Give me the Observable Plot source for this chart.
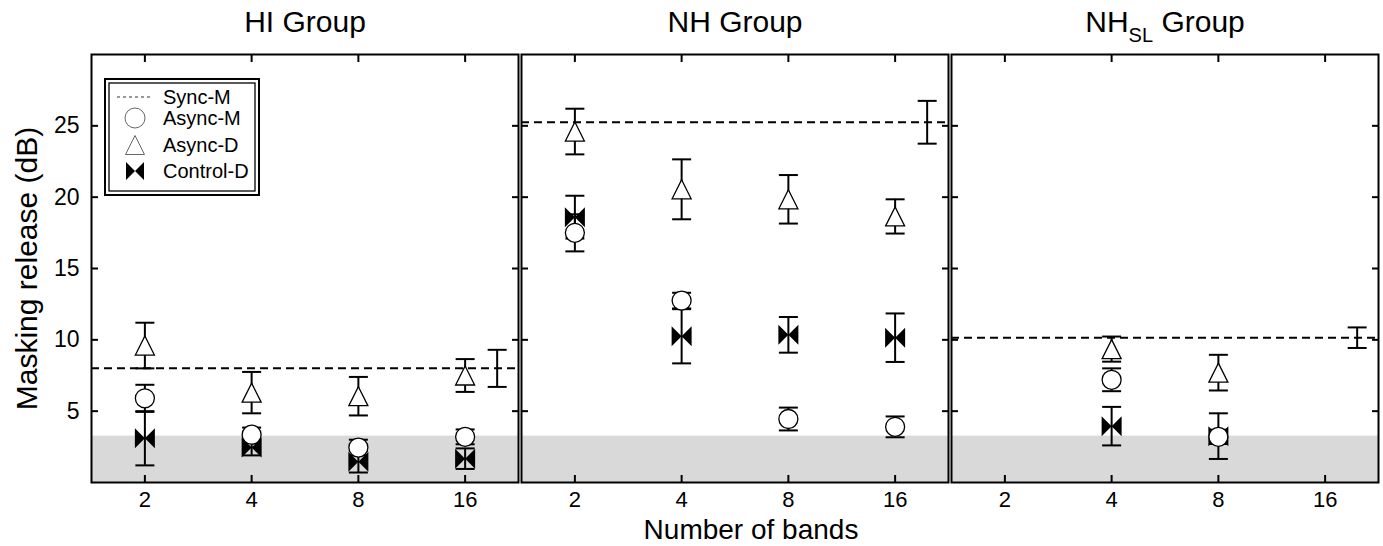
<!DOCTYPE html>
<html><head><meta charset="utf-8">
<script src="https://cdn.jsdelivr.net/npm/d3@7"></script>
<script src="https://cdn.jsdelivr.net/npm/@observablehq/plot@0.6"></script>
<style>body{margin:0;background:#fff;} #chart{width:1383px;height:546px;}</style>
</head><body><div id="chart"></div>
<script>
const groups = ["HI Group", "NH Group", "NH_SL Group"];
const bands = [2, 4, 8, 16];
const yTicks = [5, 10, 15, 20, 25];
const floorLevel = 3.25;          // shaded region upper bound (dB)
const syncBand = 19.7;            // Sync-M shown to the right of 16 bands

// Sync-M (one value per group)
const syncMean = [8.0, 25.25, 10.15];
const syncErr  = [1.3, 1.5, 0.72];

// rows: groups, columns: bands 2,4,8,16 (null = not tested)
const asyncMMean = [[5.9, 3.35, 2.45, 3.2], [17.5, 12.75, 4.45, 3.9], [null, 7.2, 3.2, null]];
const asyncMErr  = [[0.95, 0.5, 0.55, 0.52], [1.3, 0.55, 0.8, 0.73], [null, 0.8, 0.5, null]];
const asyncDMean = [[9.6, 6.3, 6.05, 7.5], [24.6, 20.55, 19.85, 18.65], [null, 9.35, 7.7, null]];
const asyncDErr  = [[1.6, 1.45, 1.35, 1.15], [1.6, 2.1, 1.7, 1.2], [null, 0.88, 1.25, null]];
const controlMean = [[3.1, 2.45, 1.45, 1.67], [18.6, 10.25, 10.35, 10.15], [null, 3.95, 3.25, null]];
const controlErr  = [[1.9, 0.55, 0.75, 0.72], [1.5, 1.9, 1.25, 1.7], [null, 1.35, 1.6, null]];

function rowsOf(means, errs) {
  const out = [];
  groups.forEach((g, gi) => bands.forEach((b, bi) => {
    const m = means[gi][bi];
    if (m != null) out.push({group: g, band: b, mean: m, lo: m - errs[gi][bi], hi: m + errs[gi][bi]});
  }));
  return out;
}
const asyncM = rowsOf(asyncMMean, asyncMErr);
const asyncD = rowsOf(asyncDMean, asyncDErr);
const control = rowsOf(controlMean, controlErr);
const sync = groups.map((g, i) => ({group: g, band: syncBand, mean: syncMean[i], lo: syncMean[i] - syncErr[i], hi: syncMean[i] + syncErr[i]}));
const allErr = [...sync, ...control, ...asyncM, ...asyncD];

const rad = s => Math.sqrt(s / Math.PI);
const capSym = {draw(c, s) { const r = rad(s); c.moveTo(-r, 0); c.lineTo(r, 0); }};
const bowtie = {draw(c, s) { const r = rad(s);
  c.moveTo(-r, -r); c.lineTo(0, 0); c.lineTo(-r, r); c.closePath();
  c.moveTo(r, -r); c.lineTo(0, 0); c.lineTo(r, r); c.closePath(); }};
const tri = {draw(c, s) { const r = rad(s); c.moveTo(0, -r); c.lineTo(r, r); c.lineTo(-r, r); c.closePath(); }};

const tickOpts = {tickSize: -7, strokeWidth: 2, fill: "none", label: null, facetAnchor: null};

const svg = Plot.plot({
  width: 1383, height: 546,
  marginLeft: 90, marginRight: 5, marginTop: 54, marginBottom: 64,
  style: {fontFamily: "'Liberation Sans', Arial, sans-serif", fontSize: "21px", background: "white", color: "black"},
  fx: {domain: groups, axis: null, paddingInner: 0.008, paddingOuter: 0},
  x: {type: "log", base: 2, domain: [2 ** 0.5, 2 ** 4.5], axis: null},
  y: {domain: [0, 30], axis: null},
  marks: [
    Plot.rect([floorLevel], {y1: 0, y2: d => d, fill: "#d9d9d9"}),
    Plot.ruleY(sync, {fx: "group", y: "mean", stroke: "black", strokeWidth: 2, strokeDasharray: "8,5"}),
    Plot.ruleX(allErr, {fx: "group", x: "band", y1: "lo", y2: "hi", stroke: "black", strokeWidth: 2}),
    Plot.dot(allErr, {fx: "group", x: "band", y: "lo", symbol: capSym, r: 9.5, stroke: "black", strokeWidth: 2, fill: "none"}),
    Plot.dot(allErr, {fx: "group", x: "band", y: "hi", symbol: capSym, r: 9.5, stroke: "black", strokeWidth: 2, fill: "none"}),
    Plot.dot(control, {fx: "group", x: "band", y: "mean", symbol: bowtie, r: 10, fill: "black", stroke: "none"}),
    Plot.dot(asyncM, {fx: "group", x: "band", y: "mean", symbol: "circle", r: 9.5, fill: "white", stroke: "black", strokeWidth: 1.3}),
    Plot.dot(asyncD, {fx: "group", x: "band", y: "mean", symbol: tri, r: 9.5, fill: "white", stroke: "black", strokeWidth: 1.3}),
    Plot.frame({stroke: "black", strokeWidth: 2}),
    Plot.axisY({anchor: "left", ticks: yTicks, tickSize: 0, tickPadding: 12, fontSize: 23, label: null}),
    Plot.axisY({anchor: "left", ticks: yTicks, ...tickOpts}),
    Plot.axisY({anchor: "right", ticks: yTicks, ...tickOpts}),
    Plot.axisX({anchor: "bottom", ticks: bands, tickFormat: d => String(d), tickSize: 0, tickPadding: 9, fontSize: 22, label: null}),
    Plot.axisX({anchor: "bottom", ticks: bands, ...tickOpts}),
    Plot.axisX({anchor: "top", ticks: bands, ...tickOpts}),
    Plot.text(groups, {fx: d => d, text: d => d, frameAnchor: "top", lineAnchor: "middle", dy: -32, fontSize: 30}),
    Plot.text(["Masking release (dB)"], {fx: () => groups[0], text: d => d, frameAnchor: "left", lineAnchor: "middle", textAnchor: "middle", dx: -64, rotate: -90, fontSize: 30}),
    Plot.text(["Number of bands"], {fx: () => groups[1], text: d => d, frameAnchor: "bottom", lineAnchor: "middle", dy: 48, dx: 16, fontSize: 28})
  ]
});

// force tick label sizes
const xLabelSet = new Set(bands.map(String));
const yLabelSet = new Set(yTicks.map(String));
d3.select(svg).selectAll("text").each(function() {
  const s = this.textContent;
  if (xLabelSet.has(s)) this.style.fontSize = "22px";
  else if (yLabelSet.has(s)) this.style.fontSize = "23px";
});

// subscript for NH_SL
d3.select(svg).selectAll("text").filter(function() { return this.textContent === "NH_SL Group"; })
  .each(function() {
    const t = d3.select(this); t.text("");
    t.append("tspan").text("NH");
    t.append("tspan").attr("dy", 10).attr("font-size", 20).text("SL");
    t.append("tspan").attr("dy", -10).text(" Group");
  });

// legend inside HI panel
const lg = d3.select(svg).append("g").attr("font-family", "'Liberation Sans', Arial, sans-serif").attr("font-size", 20).attr("text-anchor", "start");
lg.append("rect").attr("x", 105).attr("y", 79).attr("width", 154).attr("height", 116).attr("fill", "white").attr("stroke", "black").attr("stroke-width", 2);
lg.append("rect").attr("x", 109).attr("y", 83).attr("width", 146).attr("height", 108).attr("fill", "none").attr("stroke", "black").attr("stroke-width", 1.3);
const items = ["Sync-M", "Async-M", "Async-D", "Control-D"];
const rowsY = [97, 118, 145, 171];
lg.append("line").attr("x1", 117).attr("x2", 153).attr("y1", rowsY[0]).attr("y2", rowsY[0]).attr("stroke", "#333").attr("stroke-width", 1).attr("stroke-dasharray", "3,3");
lg.append("circle").attr("cx", 135).attr("cy", rowsY[1]).attr("r", 10).attr("fill", "none").attr("stroke", "#666").attr("stroke-width", 1);
lg.append("path").attr("d", d3.symbol(tri, Math.PI * 9.5 * 9.5)()).attr("transform", `translate(135,${rowsY[2]})`).attr("fill", "none").attr("stroke", "#666").attr("stroke-width", 1);
lg.append("path").attr("d", d3.symbol(bowtie, Math.PI * 9 * 9)()).attr("transform", `translate(135,${rowsY[3]})`).attr("fill", "black");
items.forEach((s, i) => lg.append("text").attr("x", 163).attr("y", rowsY[i]).attr("dy", "0.35em").attr("text-anchor", "start").text(s));

document.getElementById("chart").appendChild(svg);
</script></body></html>
